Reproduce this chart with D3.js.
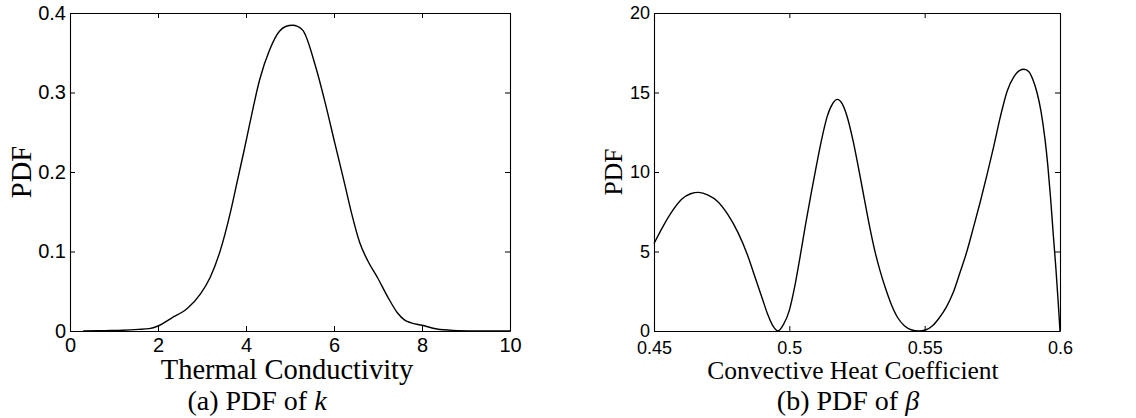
<!DOCTYPE html>
<html>
<head>
<meta charset="utf-8">
<script src="https://cdn.jsdelivr.net/npm/d3@7"></script>
<style>
  html, body { margin: 0; padding: 0; background: #fff; }
  svg { display: block; }
  .tick text { font-family: "Liberation Sans", Arial, sans-serif; fill: #000; }
  .lbl { font-family: "Liberation Serif", "Times New Roman", serif; fill: #000; }
</style>
</head>
<body>
<svg id="chart" width="1136" height="418"></svg>
<script>
// Panel (a): PDF of thermal conductivity k
const kX = [0.3, 0.8, 1.2, 1.55, 1.8, 2.0, 2.3, 2.67, 2.97, 3.19, 3.42, 3.64, 3.8, 3.96,
            4.09, 4.31, 4.54, 4.76, 4.9, 5.06, 5.28, 5.58, 5.8, 6.02, 6.23, 6.4, 6.58,
            6.77, 6.99, 7.22, 7.44, 7.6, 7.74, 8.0, 8.34, 8.7, 9.2, 10];
const kPdf = [0, 0.0005, 0.001, 0.002, 0.003, 0.0063, 0.016, 0.0285, 0.047, 0.068, 0.102,
              0.148, 0.188, 0.228, 0.262, 0.316, 0.354, 0.377, 0.383, 0.3845, 0.379, 0.333,
              0.287, 0.236, 0.188, 0.148, 0.112, 0.088, 0.067, 0.043, 0.023, 0.014, 0.0105,
              0.0072, 0.0025, 0.0008, 0.0002, 0];
const kXTicks = [0, 2, 4, 6, 8, 10];
const kYTicks = [0, 0.1, 0.2, 0.3, 0.4];

// Panel (b): PDF of convective heat coefficient beta
const betaX = [0.45, 0.4534, 0.4568, 0.4602, 0.4635, 0.4665, 0.47, 0.4735, 0.4772, 0.481,
               0.4845, 0.4875, 0.49, 0.492, 0.494, 0.4958, 0.4978, 0.5, 0.502, 0.504,
               0.506, 0.508, 0.51, 0.512, 0.514, 0.516, 0.5177, 0.5195, 0.5215, 0.5235,
               0.5255, 0.5275, 0.5295, 0.5315, 0.5335, 0.5355, 0.5375, 0.54, 0.5425, 0.545,
               0.5478, 0.5505, 0.553, 0.5555, 0.558, 0.5605, 0.563, 0.5655, 0.568, 0.5705,
               0.573, 0.5755, 0.578, 0.5805, 0.583, 0.585, 0.5867, 0.5885, 0.59, 0.5915,
               0.593, 0.5945, 0.5955, 0.5965, 0.5975, 0.5985, 0.5993, 0.6];
const betaPdf = [5.5, 6.6, 7.55, 8.28, 8.63, 8.72, 8.55, 8.15, 7.35, 6.2,
                 4.8, 3.3, 2.05, 1.05, 0.3, 0, 0.4, 1.3, 2.8, 4.7,
                 6.7, 8.6, 10.4, 12.1, 13.5, 14.3, 14.57, 14.3, 13.4, 12.0,
                 10.3, 8.5, 6.7, 5.1, 3.8, 2.7, 1.75, 0.85, 0.33, 0.08,
                 0, 0.08, 0.35, 0.85, 1.5, 2.4, 3.65, 4.95, 6.5, 8.1,
                 9.8, 11.6, 13.5, 15.1, 16.0, 16.38, 16.46, 16.3, 15.8, 15.0,
                 13.8, 12.0, 10.4, 8.4, 6.1, 3.9, 1.9, 0];
const betaXTicks = [0.45, 0.5, 0.55, 0.6];
const betaYTicks = [0, 5, 10, 15, 20];

const svg = d3.select("#chart");

function panel(cfg) {
  const x = d3.scaleLinear().domain(cfg.xDomain).range([cfg.left, cfg.right]);
  const y = d3.scaleLinear().domain(cfg.yDomain).range([cfg.bottom, cfg.top]);
  const g = svg.append("g");
  const tick = 5;

  const styleAxis = sel => {
    sel.selectAll("path.domain").attr("stroke", "#000").attr("stroke-width", 1.1);
    sel.selectAll(".tick line").attr("stroke", "#000").attr("stroke-width", 1);
    sel.selectAll(".tick text").attr("fill", "#000").style("font-size", cfg.tickFont + "px");
  };

  g.append("g")
    .attr("transform", `translate(0,${cfg.bottom})`)
    .call(d3.axisBottom(x).tickValues(cfg.xTicks).tickFormat(d3.format("~g"))
      .tickSize(-tick).tickSizeOuter(0).tickPadding(cfg.xPad))
    .call(styleAxis);
  g.append("g")
    .attr("transform", `translate(0,${cfg.top})`)
    .call(d3.axisTop(x).tickValues(cfg.xTicks).tickFormat("")
      .tickSize(-tick).tickSizeOuter(0))
    .call(styleAxis);
  g.append("g")
    .attr("transform", `translate(${cfg.left},0)`)
    .call(d3.axisLeft(y).tickValues(cfg.yTicks).tickFormat(d3.format("~g"))
      .tickSize(-tick).tickSizeOuter(0).tickPadding(4))
    .call(styleAxis);
  g.append("g")
    .attr("transform", `translate(${cfg.right},0)`)
    .call(d3.axisRight(y).tickValues(cfg.yTicks).tickFormat("")
      .tickSize(-tick).tickSizeOuter(0))
    .call(styleAxis);

  const line = d3.line()
    .x((d, i) => x(cfg.xs[i]))
    .y(d => y(d))
    .curve(d3.curveMonotoneX);
  g.append("path")
    .datum(cfg.ys)
    .attr("fill", "none")
    .attr("stroke", "#000")
    .attr("stroke-width", 1.4)
    .attr("d", line);

  // axis titles
  g.append("text").attr("class", "lbl")
    .style("font-size", cfg.labelFont + "px")
    .attr("x", (cfg.left + cfg.right) / 2 + cfg.xLabelShift).attr("y", 379)
    .attr("text-anchor", "middle").text(cfg.xLabel);
  g.append("text").attr("class", "lbl")
    .style("font-size", cfg.labelFont + "px")
    .attr("transform", `translate(${cfg.yLabelX},${(cfg.top + cfg.bottom) / 2}) rotate(-90)`)
    .attr("text-anchor", "middle").text("PDF");

  // sub-caption
  const cap = g.append("text").attr("class", "lbl")
    .style("font-size", "28px")
    .attr("x", cfg.capX).attr("y", 410).attr("text-anchor", "middle");
  cap.append("tspan").text(cfg.caption);
  cap.append("tspan").attr("font-style", "italic").text(cfg.captionSym);
}

panel({
  xDomain: [0, 10], yDomain: [0, 0.4],
  left: 70, right: 510, top: 13, bottom: 331,
  xTicks: kXTicks, yTicks: kYTicks,
  xs: kX, ys: kPdf,
  tickFont: 20, labelFont: 28.5, xPad: 7,
  xLabel: "Thermal Conductivity", xLabelShift: -3, yLabelX: 31,
  caption: "(a) PDF of ", captionSym: "k", capX: 257
});

panel({
  xDomain: [0.45, 0.6], yDomain: [0, 20],
  left: 654, right: 1060, top: 13, bottom: 331,
  xTicks: betaXTicks, yTicks: betaYTicks,
  xs: betaX, ys: betaPdf,
  tickFont: 18, labelFont: 25.5, xPad: 10,
  xLabel: "Convective Heat Coefficient", xLabelShift: -4, yLabelX: 622,
  caption: "(b) PDF of ", captionSym: "β", capX: 848
});
</script>
</body>
</html>
